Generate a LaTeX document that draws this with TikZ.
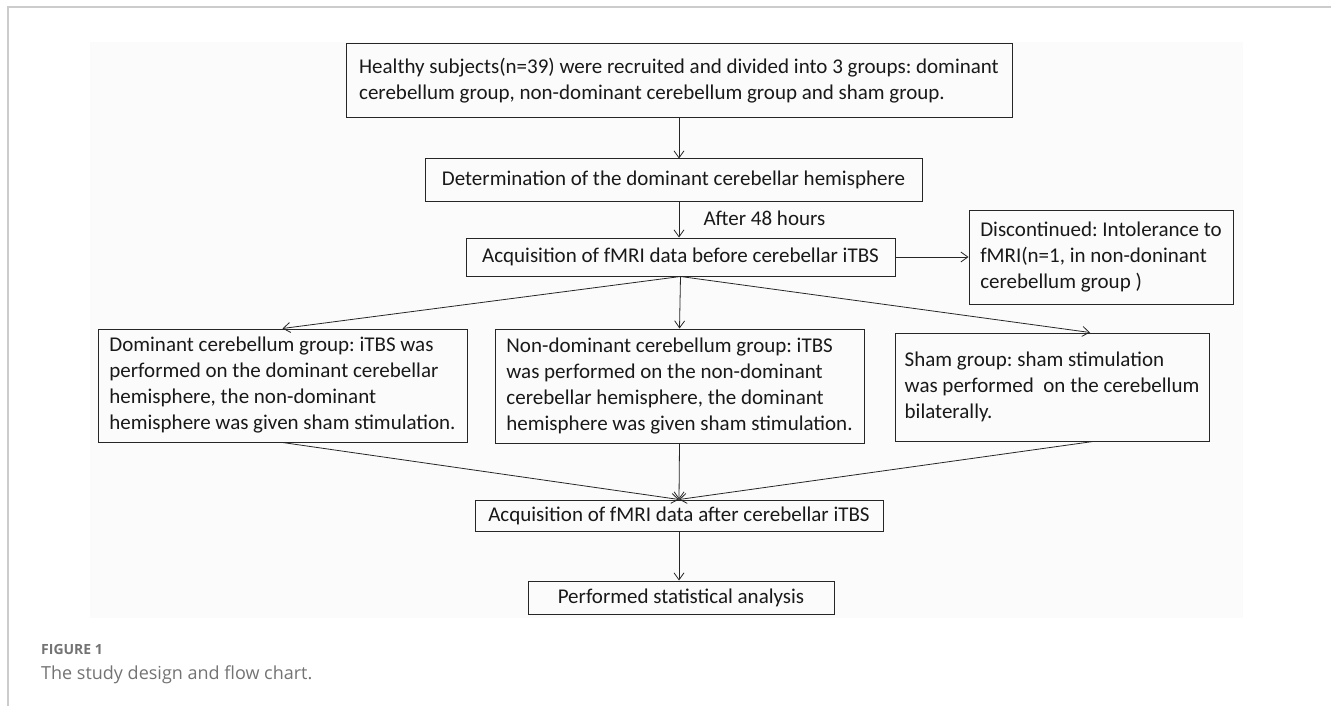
\documentclass[tikz,border=0pt]{standalone}
\usepackage{fontspec}
\setmainfont{Carlito}
\newfontfamily\capfont{Open Sans}
\usepackage{tikz}
\usetikzlibrary{arrows.meta}
\frenchspacing

\begin{document}
\begin{tikzpicture}[x=1pt,y=-1pt,
	>={Straight Barb[length=7pt,width=10pt]},
	box/.style={draw=black!85,line width=1pt,inner xsep=0pt,inner ysep=0pt,text=black!90,font=\fontsize{21}{26}\selectfont},
	txt/.style={box,align=left},
	arr/.style={line width=0.8pt,black!85}]
	\useasboundingbox (0,0) rectangle (1331,706);
	% frame and figure background
	\fill[black!1.5] (90,42) rectangle (1243,618);
	\draw[black!20,line width=1.5pt] (8,706) -- (8,7) -- (1331,7);
	
	\node[txt,minimum width=666pt,minimum height=74pt] (recruit) at (679,81) {Healthy subjects(n=39) were recruited and divided into 3 groups: dominant\\cerebellum group, non-dominant cerebellum group and sham group.};
	\node[box,minimum width=497pt,minimum height=42pt] (determ) at (673.5,180) {Determination of the dominant cerebellar hemisphere};
	\node[box,minimum width=429pt,minimum height=38pt] (before) at (680.5,257) {Acquisition of fMRI data before cerebellar iTBS};
	\node[txt,minimum width=264pt,minimum height=94pt] (discont) at (1101,257) {Discontinued: Intolerance to\\fMRI(n=1, in non-doninant\\cerebellum group )};
	\node[txt,minimum width=369pt,minimum height=113pt] (domin) at (282.5,385.5) {Dominant cerebellum group: iTBS was\\performed on the dominant cerebellar\\hemisphere, the non-dominant\\hemisphere was given sham stimulation.};
	\node[txt,minimum width=369pt,minimum height=114pt] (nondom) at (679.5,386) {Non-dominant cerebellum group: iTBS\\was performed on the non-dominant\\cerebellar hemisphere, the dominant\\hemisphere was given sham stimulation.};
	\node[txt,minimum width=314pt,minimum height=108pt] (sham) at (1052,387) {Sham group: sham stimulation\\was performed\ \ on the cerebellum\\bilaterally.};
	\node[box,minimum width=408pt,minimum height=31pt] (after) at (679,515.5) {Acquisition of fMRI data after cerebellar iTBS};
	\node[box,minimum width=306pt,minimum height=33pt] (stats) at (681,597.5) {Performed statistical analysis};
	\node[text=black!90,font=\fontsize{21}{26}\selectfont,anchor=west] (delay) at (700,218) {After 48 hours};
	
	\path[->,arr]
	(recruit.south) edge (recruit.south |- determ.north)
	(determ.south -| recruit.south) edge (before.north -| recruit.south)
	(before) edge (discont)
	(before.south) edge (domin.north)
	(before.south) edge (nondom.north)
	(before.south) edge ([xshift=38pt]sham.north)
	(domin.south) edge (after.north)
	(nondom.south) edge (after.north)
	([xshift=41pt]sham.south) edge (after.north)
	(after.south) edge (after.south |- stats.north);
	
	% caption
	\node[anchor=west,inner sep=0pt,text=black!55,font=\capfont\bfseries\fontsize{14}{16}\selectfont] (fignum) at (41,649) {FIGURE 1};
	\node[anchor=west,inner sep=0pt,text=black!55,font=\capfont\fontsize{18}{21}\selectfont] (figcap) at (41,675) {The study design and flow chart.};
\end{tikzpicture}
\end{document}
